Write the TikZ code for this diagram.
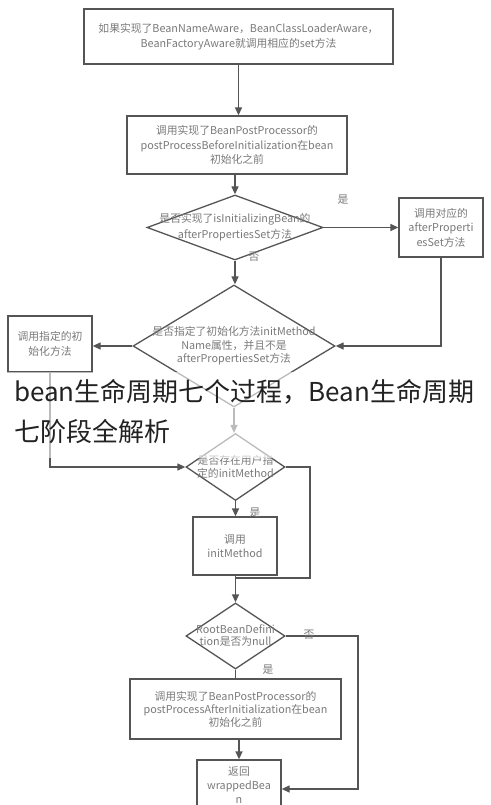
\documentclass[tikz,border=0pt]{standalone}
\usepackage{fontspec}
\setmainfont{Noto Sans CJK SC}
\usetikzlibrary{shapes.geometric,arrows.meta}
\definecolor{lc}{HTML}{555555}
\definecolor{tc}{HTML}{7a7a7a}
\definecolor{ttl}{HTML}{222222}
\tikzset{
  box/.style={draw=lc,line width=1.3pt,rectangle,inner sep=0pt,fill=white},
  dia/.style={draw=lc,line width=1.3pt,diamond,inner sep=0pt,fill=white},
  txt/.style={text=tc,font=\fontsize{10.8}{14.5}\selectfont,align=center,inner sep=0pt},
  lbl/.style={text=tc,font=\fontsize{10.8}{12}\selectfont,inner sep=0pt},
  conn/.style={draw=lc,line width=1.3pt},
  arr/.style={conn,-{Triangle[length=8pt,width=7pt]}},
  ttlstyle/.style={text=ttl,font=\fontsize{26}{30}\selectfont,anchor=west,inner sep=0pt}
}
\begin{document}
\begin{tikzpicture}[x=1pt,y=-1pt]
\useasboundingbox (0,0) rectangle (490,805);
\fill[white] (0,0) rectangle (490,805);
\clip (0,0) rectangle (490,805);
% boxes
\node[box,minimum width=309pt,minimum height=55pt] (b1) at (238.5,36.5) {};
\node[txt] (t1) at (b1) {如果实现了BeanNameAware，BeanClassLoaderAware，\\BeanFactoryAware就调用相应的set方法};
\node[box,minimum width=220pt,minimum height=58pt] (b2) at (237,145) {};
\node[txt] (t2) at (b2) {调用实现了BeanPostProcessor的\\postProcessBeforeInitialization在bean\\初始化之前};
\node[dia,minimum width=176pt,minimum height=65pt] (d1) at (235,227.5) {};
\node[txt,font=\fontsize{10.8}{16}\selectfont] (td1) at (d1) {是否实现了isInitializingBean的\\afterPropertiesSet方法};
\node[box,minimum width=84pt,minimum height=59pt] (br) at (441,227.5) {};
\node[txt] (tbr) at (br) {调用对应的\\afterProperti\\esSet方法};
\node[dia,minimum width=202pt,minimum height=122pt] (d2) at (234,346) {};
\node[txt,font=\fontsize{10.8}{13.5}\selectfont] (td2) at (d2) {是否指定了初始化方法initMethod\\Name属性，并且不是\\afterPropertiesSet方法};
\node[box,minimum width=84pt,minimum height=56pt] (bl) at (50,344) {};
\node[txt] (tbl) at (bl) {调用指定的初\\始化方法};
\node[dia,minimum width=99pt,minimum height=67pt] (d3) at (235.5,467) {};
\node[txt,font=\fontsize{10.8}{13.5}\selectfont] (td3) at (d3) {是否存在用户指\\定的initMethod};
\node[box,minimum width=84pt,minimum height=58pt] (b3) at (235,546) {};
\node[txt] (tb3) at (b3) {调用\\initMethod};
\node[dia,minimum width=99pt,minimum height=66pt] (d4) at (235.5,636) {};
\node[txt,font=\fontsize{10.8}{12}\selectfont] (td4) at (d4) {RootBeanDefini\\tion是否为null};
\node[box,minimum width=211pt,minimum height=60pt] (b5) at (235.5,709) {};
\node[txt,font=\fontsize{10.8}{13}\selectfont] (tb5) at (b5) {调用实现了BeanPostProcessor的\\postProcessAfterInitialization在bean\\初始化之前};
\node[box,minimum width=84pt,minimum height=60pt] (b6) at (239,790) {};
\node[txt,anchor=north,font=\fontsize{10.8}{14}\selectfont] (tb6) at (239,766) {返回\\wrappedBea\\n};
% connectors
\draw[arr] (b1.south) -- (b1.south |- b2.north);
\draw[arr] (b2.south -| d1.north) -- (d1.north);
\draw[arr] (d1.east) -- (br.west);
\node[lbl] (ys1) at (343,200) {是};
\draw[arr] (d1.south) -- (d1.south |- d2.north);
\node[lbl] (no1) at (254,257) {否};
\draw[arr] (br.south) |- (d2.east);
\draw[arr] (d2.west) -- (bl.east |- d2.west);
\draw[arr] (bl.south) |- (d3.west);
\draw[arr] (d2.south) -- (d2.south |- d3.north);
\draw[arr] (d3.south) -- (d3.south |- b3.north);
\node[lbl] (ys3) at (255,513) {是};
\coordinate (m3) at (235.5,578);
\draw[conn] (d3.east) -- (310,467) |- (m3);
\draw[arr] (b3.south -| d4.north) -- (d4.north);
\draw[conn] (d4.south) -- (d4.south |- b5.north);
\node[lbl] (ys4) at (268,670) {是};
\draw[arr] (d4.east) -- (358,636) |- (b6.east |- 0,789);
\node[lbl] (no4) at (309,635) {否};
\draw[arr] (b5.south -| b6.north) -- (b6.north);
% overlay
\fill[white,opacity=0.6] (0,372) rectangle (490,458);
\node[ttlstyle] (title1) at (14,392) {bean生命周期七个过程，Bean生命周期};
\node[ttlstyle] (title2) at (14,432) {七阶段全解析};
\end{tikzpicture}
\end{document}
